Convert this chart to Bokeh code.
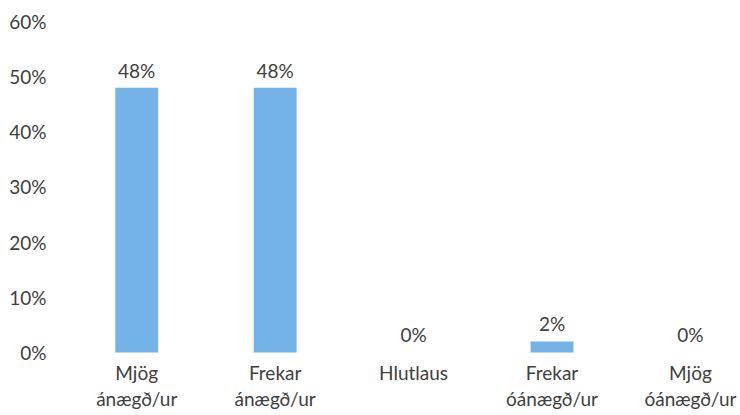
from bokeh.plotting import figure
from bokeh.models import ColumnDataSource, FixedTicker, NumeralTickFormatter
from bokeh.core.properties import value
from bokeh.embed import file_html
from bokeh.resources import INLINE

categories = ["Mjög\nánægð/ur", "Frekar\nánægð/ur", "Hlutlaus", "Frekar\nóánægð/ur", "Mjög\nóánægð/ur"]
values = [0.48, 0.48, 0.0, 0.02, 0.0]
labels = ["48%", "48%", "0%", "2%", "0%"]
y_ticks = [0, 0.1, 0.2, 0.3, 0.4, 0.5, 0.6]

FONT = "Lato"
TXT = "#404040"
FS = "19px"

xs = list(range(len(categories)))
src = ColumnDataSource(dict(x=xs, top=values, lab=labels, cat=categories, base=[0] * len(xs)))

p = figure(width=738, height=413, output_backend="svg", toolbar_location=None,
           x_range=(-0.5, 4.347), y_range=(-0.1106, 0.6),
           min_border_left=67, min_border_right=0, min_border_top=21, min_border_bottom=0)
p.outline_line_color = None
p.grid.grid_line_color = None
p.background_fill_color = "white"
p.xaxis.visible = False

p.vbar(x="x", top="top", bottom=0, width=0.31, source=src, color="#74b3e8", line_color=None)
p.text(x="x", y="top", text="lab", source=src, text_align="center", text_baseline="bottom",
       y_offset=-6, text_font=value(FONT), text_font_size=FS, text_color=TXT)
p.text(x="x", y="base", text="cat", source=src, text_align="center", text_baseline="top",
       y_offset=9, text_font=value(FONT), text_font_size=FS, text_color=TXT,
       text_line_height=1.1)

p.yaxis.ticker = FixedTicker(ticks=y_ticks)
p.yaxis.formatter = NumeralTickFormatter(format="0%")
ax = p.yaxis
ax.axis_line_color = None
ax.major_tick_line_color = None
ax.minor_tick_line_color = None
ax.major_tick_out = 0
ax.major_tick_in = 0
ax.major_label_text_font = FONT
ax.major_label_text_font_size = FS
ax.major_label_text_color = TXT
ax.major_label_standoff = 21

open("out.html", "w").write(file_html(p, INLINE))
